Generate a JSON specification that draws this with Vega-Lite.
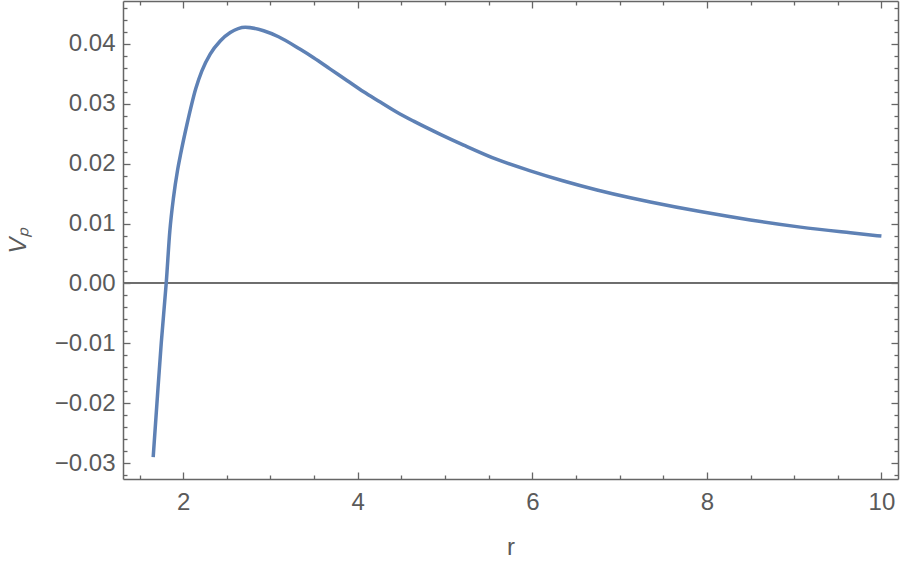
{
  "$schema": "https://vega.github.io/schema/vega-lite/v6.json",
  "width": 775,
  "height": 478,
  "autosize": "none",
  "padding": {"left": 123, "top": 1, "right": 2, "bottom": 83},
  "background": "white",
  "config": {
    "view": {"stroke": null},
    "axis": {
      "domainColor": "#666666",
      "domainWidth": 1.5,
      "tickColor": "#666666",
      "tickWidth": 1.3,
      "labelColor": "#5a5a5a",
      "labelFont": "Liberation Sans",
      "labelFontSize": 24,
      "titleFont": "Liberation Sans",
      "titleFontSize": 24,
      "titleColor": "#5a5a5a",
      "titleFontWeight": "normal",
      "grid": false,
      "labelFlush": false,
      "labelOverlap": false
    }
  },
  "data": {
    "values": [
      {"r": 1.656, "V": -0.0290},
      {"r": 1.699, "V": -0.0200},
      {"r": 1.748, "V": -0.0100},
      {"r": 1.805, "V": 0.0000},
      {"r": 1.847, "V": 0.0088},
      {"r": 1.889, "V": 0.0144},
      {"r": 1.935, "V": 0.0189},
      {"r": 1.973, "V": 0.0218},
      {"r": 2.042, "V": 0.0265},
      {"r": 2.145, "V": 0.0326},
      {"r": 2.214, "V": 0.0355},
      {"r": 2.309, "V": 0.0383},
      {"r": 2.424, "V": 0.0405},
      {"r": 2.539, "V": 0.0419},
      {"r": 2.711, "V": 0.0428},
      {"r": 2.921, "V": 0.0422},
      {"r": 3.092, "V": 0.0412},
      {"r": 3.341, "V": 0.0391},
      {"r": 3.494, "V": 0.0377},
      {"r": 3.685, "V": 0.0358},
      {"r": 3.876, "V": 0.0339},
      {"r": 4.067, "V": 0.0320},
      {"r": 4.258, "V": 0.0303},
      {"r": 4.449, "V": 0.0286},
      {"r": 4.640, "V": 0.0271},
      {"r": 4.946, "V": 0.0249},
      {"r": 5.213, "V": 0.0231},
      {"r": 5.595, "V": 0.0207},
      {"r": 5.977, "V": 0.0188},
      {"r": 6.359, "V": 0.0171},
      {"r": 6.741, "V": 0.0156},
      {"r": 7.123, "V": 0.0143},
      {"r": 7.352, "V": 0.0136},
      {"r": 7.925, "V": 0.0120},
      {"r": 8.498, "V": 0.0106},
      {"r": 9.072, "V": 0.0094},
      {"r": 9.645, "V": 0.00845},
      {"r": 10.0, "V": 0.0079}
    ]
  },
  "layer": [
    {
      "mark": {"type": "rule", "color": "#707070", "strokeWidth": 0.7},
      "encoding": {
        "y": {"datum": 0, "type": "quantitative", "axis": null, "scale": {"domain": [-0.03267, 0.04717], "nice": false, "zero": false}}
      }
    },
    {
      "mark": {"type": "line", "color": "#5E81B5", "strokeWidth": 3.5, "interpolate": "monotone", "clip": true},
      "encoding": {
        "x": {
          "field": "r", "type": "quantitative",
          "scale": {"domain": [1.31, 10.19], "nice": false, "zero": false},
          "axis": {
            "orient": "bottom",
            "title": "r",
            "titlePadding": 18,
            "values": [1.5, 2, 2.5, 3, 3.5, 4, 4.5, 5, 5.5, 6, 6.5, 7, 7.5, 8, 8.5, 9, 9.5, 10],
            "labelExpr": "datum.value % 2 === 0 ? format(datum.value, 'd') : ''",
            "tickSize": {"condition": {"test": "datum.value % 2 === 0", "value": -7}, "value": -4},
            "labelPadding": 18
          }
        },
        "y": {
          "field": "V", "type": "quantitative",
          "scale": {"domain": [-0.03267, 0.04717], "nice": false, "zero": false},
          "axis": {
            "orient": "left",
            "title": "Vₚ",
            "titleFontStyle": "italic",
            "titlePadding": 24,
            "values": [-0.032, -0.030, -0.028, -0.026, -0.024, -0.022, -0.020, -0.018, -0.016, -0.014, -0.012, -0.010, -0.008, -0.006, -0.004, -0.002, 0, 0.002, 0.004, 0.006, 0.008, 0.010, 0.012, 0.014, 0.016, 0.018, 0.020, 0.022, 0.024, 0.026, 0.028, 0.030, 0.032, 0.034, 0.036, 0.038, 0.040, 0.042, 0.044, 0.046],
            "labelExpr": "abs(round(datum.value * 1000)) % 10 === 0 ? format(datum.value, '.2f') : ''",
            "tickSize": {"condition": {"test": "abs(round(datum.value * 1000)) % 10 === 0", "value": -7}, "value": -4},
            "labelPadding": 15
          }
        }
      }
    },
    {
      "mark": {"type": "line", "strokeOpacity": 0, "interpolate": "monotone"},
      "encoding": {
        "x": {
          "field": "r", "type": "quantitative",
          "axis": {
            "orient": "top",
            "title": null,
            "labels": false,
            "values": [1.5, 2, 2.5, 3, 3.5, 4, 4.5, 5, 5.5, 6, 6.5, 7, 7.5, 8, 8.5, 9, 9.5, 10],
            "tickSize": {"condition": {"test": "datum.value % 2 === 0", "value": -7}, "value": -4}
          }
        },
        "y": {
          "field": "V", "type": "quantitative",
          "axis": {
            "orient": "right",
            "title": null,
            "labels": false,
            "values": [-0.032, -0.030, -0.028, -0.026, -0.024, -0.022, -0.020, -0.018, -0.016, -0.014, -0.012, -0.010, -0.008, -0.006, -0.004, -0.002, 0, 0.002, 0.004, 0.006, 0.008, 0.010, 0.012, 0.014, 0.016, 0.018, 0.020, 0.022, 0.024, 0.026, 0.028, 0.030, 0.032, 0.034, 0.036, 0.038, 0.040, 0.042, 0.044, 0.046],
            "tickSize": {"condition": {"test": "abs(round(datum.value * 1000)) % 10 === 0", "value": -7}, "value": -4}
          }
        }
      }
    }
  ],
  "resolve": {"axis": {"x": "independent", "y": "independent"}}
}
